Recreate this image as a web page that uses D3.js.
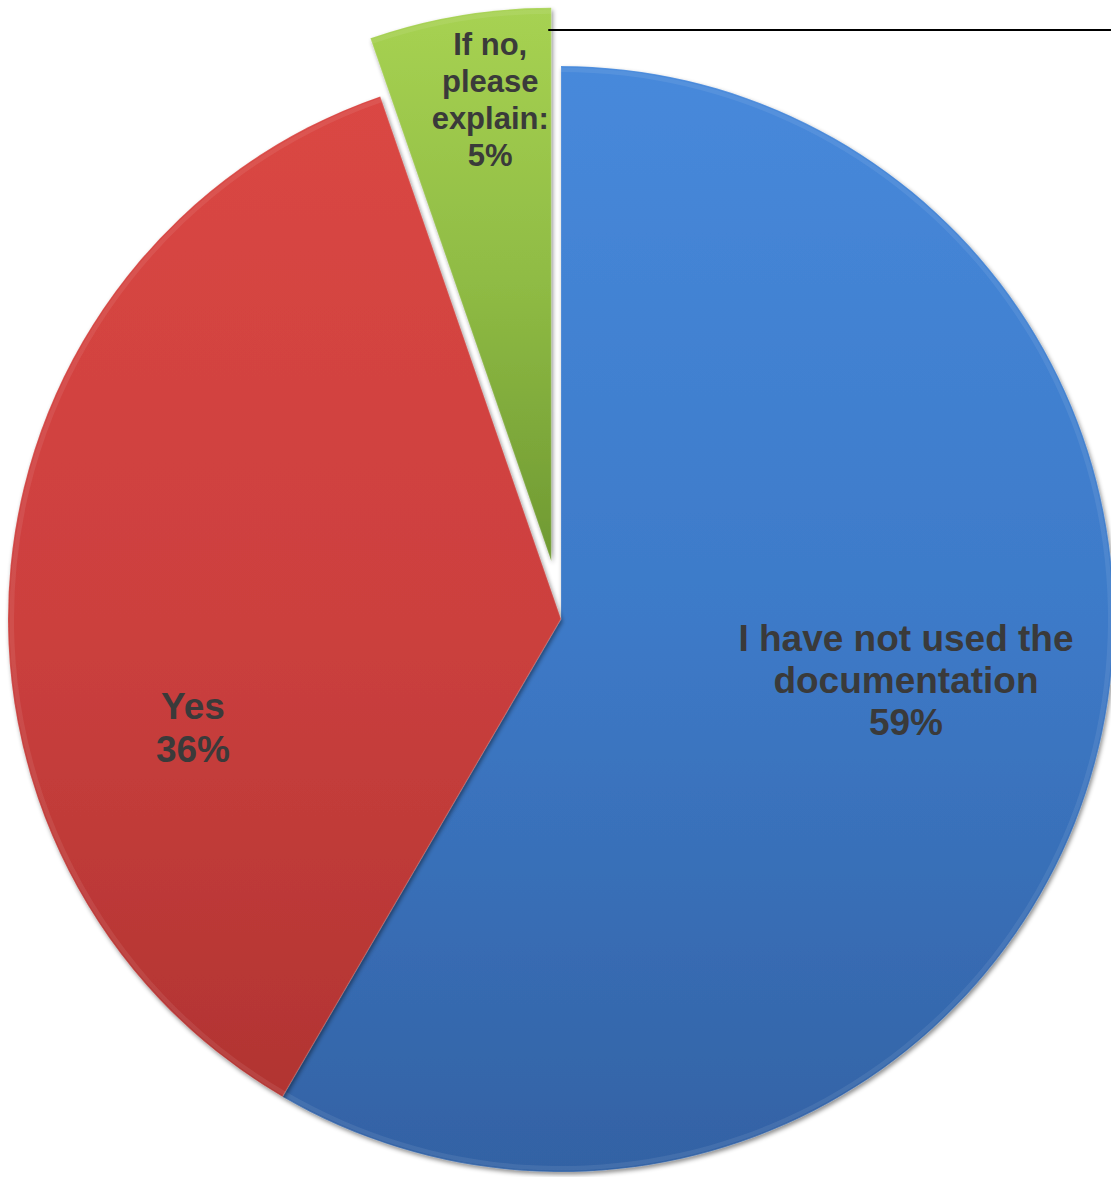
<!DOCTYPE html>
<html>
<head>
<meta charset="utf-8">
<script src="https://cdn.jsdelivr.net/npm/d3@7"></script>
<style>
  html, body { margin: 0; padding: 0; background: #ffffff; }
  svg { display: block; }
</style>
</head>
<body>
<svg id="chart" width="1111" height="1177"></svg>
<script>
// ---- data ----
const categories = ["I have not used the documentation", "Yes", "If no, please explain:"];
const values = [58.4, 36.3, 5.3];
const pctLabels = ["59%", "36%", "5%"];
const labelLines = [
  ["I have not used the", "documentation", "59%"],
  ["Yes", "36%"],
  ["If no,", "please", "explain:", "5%"]
];
const exploded = [false, false, true];

// ---- style / layout ----
const W = 1111, H = 1177;
const cx = 561, cy = 619, R = 553;
const explodeDist = 59;
const gradStops = [
  ["#4789DB", "#3D7AC8", "#3362A4"],
  ["#DB4744", "#CC403E", "#AD3230"],
  ["#A7D252", "#8FBB44", "#6F9932"]
];
const labelStyle = [
  { size: 37, lh: 42 },
  { size: 37, lh: 43 },
  { size: 31, lh: 37 }
];

const svg = d3.select("#chart");
const defs = svg.append("defs");

const pie = d3.pie().sort(null).value(d => d);
const arcs = pie(values);
const arc = d3.arc().innerRadius(0).outerRadius(R);
const labelArc = d3.arc().innerRadius(0).outerRadius(R * 1.24);

// gradients (in each slice's local coordinates, pie centre = 0,0)
arcs.forEach((a, i) => {
  const y1 = -R, y2 = exploded[i] ? 0 : R;
  const g = defs.append("linearGradient")
    .attr("id", "grad" + i)
    .attr("gradientUnits", "userSpaceOnUse")
    .attr("x1", 0).attr("x2", 0).attr("y1", y1).attr("y2", y2);
  g.append("stop").attr("offset", "0%").attr("stop-color", gradStops[i][0]);
  g.append("stop").attr("offset", "50%").attr("stop-color", gradStops[i][1]);
  g.append("stop").attr("offset", "100%").attr("stop-color", gradStops[i][2]);
});

const shadow = defs.append("filter").attr("id", "shadow")
  .attr("x", "-10%").attr("y", "-10%").attr("width", "120%").attr("height", "120%");
shadow.append("feDropShadow").attr("dx", 1.5).attr("dy", 2.5)
  .attr("stdDeviation", 2).attr("flood-color", "#000").attr("flood-opacity", 0.45);

const gPie = svg.append("g").attr("transform", `translate(${cx},${cy})`);

const slices = gPie.selectAll("g.slice").data(arcs).enter().append("g")
  .attr("class", "slice")
  .attr("transform", (a, i) => {
    if (!exploded[i]) return null;
    const mid = (a.startAngle + a.endAngle) / 2;
    return `translate(${Math.sin(mid) * explodeDist},${-Math.cos(mid) * explodeDist})`;
  });

slices.append("path")
  .attr("d", arc)
  .attr("fill", (a, i) => `url(#grad${i})`)
  .attr("filter", "url(#shadow)");

// soft bevel highlight along the rim
slices.append("path")
  .attr("d", d3.arc().innerRadius(R - 6).outerRadius(R - 1.5))
  .attr("fill", "rgba(255,255,255,0.08)");
slices.append("path")
  .attr("d", arc)
  .attr("fill", "none")
  .attr("stroke", "rgba(255,255,255,0.12)")
  .attr("stroke-width", 1.5);

// leader line from the exploded slice
(function () {
  const i = exploded.indexOf(true);
  const a = arcs[i];
  const mid = (a.startAngle + a.endAngle) / 2;
  const ox = Math.sin(mid) * explodeDist;
  const xEdge = cx + ox - 3;
  svg.append("line")
    .attr("x1", xEdge).attr("y1", 30)
    .attr("x2", W).attr("y2", 30)
    .attr("stroke", "#000").attr("stroke-width", 2);
})();

// labels
const labelPos = [
  (a) => { const c = labelArc.centroid(a); return [cx + c[0] + 14, cy + c[1] - 29]; },
  (a) => [cx - 368, cy + 108],
  (a) => { const mid = (a.startAngle + a.endAngle) / 2; return [cx + Math.sin(mid) * explodeDist - 61, cy - Math.cos(mid) * explodeDist - 461]; }
];

arcs.forEach((a, i) => {
  const st = labelStyle[i];
  const p = labelPos[i](a);
  const lines = labelLines[i];
  const n = lines.length;
  const t = svg.append("text")
    .attr("text-anchor", "middle")
    .attr("font-family", "'Liberation Sans', Arial, sans-serif")
    .attr("font-weight", "bold")
    .attr("font-size", st.size)
    .attr("fill", "#3a3a3a");
  lines.forEach((ln, k) => {
    t.append("tspan")
      .attr("x", p[0])
      .attr("y", p[1] + (k - (n - 1) / 2) * st.lh + st.size * 0.36)
      .text(ln);
  });
});
</script>
</body>
</html>
